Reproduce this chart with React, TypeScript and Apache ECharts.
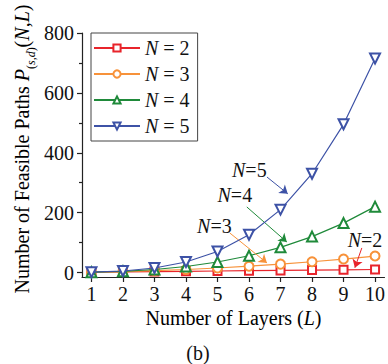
import React, { useEffect, useRef } from "react";
import * as echarts from "echarts";

// Number of layers L
const layers = [1, 2, 3, 4, 5, 6, 7, 8, 9, 10];

// Number of feasible paths for each N
const pathsN2 = [1, 2, 3, 4, 5, 6, 7, 8, 9, 10];
const pathsN3 = [1, 3, 6, 10, 15, 21, 28, 36, 45, 55];
const pathsN4 = [1, 4, 10, 20, 35, 56, 84, 120, 165, 220];
const pathsN5 = [1, 5, 15, 35, 70, 126, 210, 330, 495, 715];

const seriesNames = ["N = 2", "N = 3", "N = 4", "N = 5"];
const majorYTicks = [0, 200, 400, 600, 800];
const minorYTicks = [100, 300, 500, 700];

// Arrow callouts: label position, arrow start, arrow end (data coordinates)
const calloutLabels = ["N=2", "N=3", "N=4", "N=5"];
const calloutText: number[][] = [[9.68, 107], [4.9, 156], [5.55, 259], [6.01, 343]];
const calloutFrom: number[][] = [[9.58, 82], [5.39, 132], [5.93, 219], [6.57, 319]];
const calloutTo: number[][] = [[9.36, 16], [6.57, 32], [7.2, 102], [7.23, 263]];

const FONT = "'Liberation Serif', 'DejaVu Serif', serif";
const colors = ["#e8242b", "#f7923a", "#1f8a3a", "#3d52a6"];
const symbols = ["emptyRect", "emptyCircle", "emptyTriangle", "emptyTriangle"];
const symbolSizes = [8, 9, 10, 10];
const symbolRotates = [0, 0, 0, 180];

export default function App() {
  const ref = useRef<HTMLDivElement>(null);

  useEffect(() => {
    if (!ref.current) return;
    const chart = echarts.init(ref.current, null, { renderer: "svg" });
    const allData = [pathsN2, pathsN3, pathsN4, pathsN5];

    const series = allData.map((vals, i) => ({
      name: seriesNames[i],
      type: "line",
      data: layers.map((l, k) => [l, vals[k]]),
      symbol: symbols[i],
      symbolSize: symbolSizes[i],
      symbolRotate: symbolRotates[i],
      z: 2 + i,
      color: colors[i],
      lineStyle: { color: colors[i], width: 1.2 },
      itemStyle: { color: colors[i], borderColor: colors[i], borderWidth: 1.3 },
      markLine: {
        silent: true,
        symbol: ["none", "arrow"],
        symbolSize: 8,
        lineStyle: { color: colors[i], width: 1, type: "solid" },
        label: { show: false },
        data: [[{ coord: calloutFrom[i] }, { coord: calloutTo[i] }]],
      },
      markPoint: {
        silent: true,
        symbol: "circle",
        symbolSize: 0,
        data: [{ coord: calloutText[i] }],
        label: {
          show: true,
          position: "inside",
          formatter: "{i|N}{n|=" + calloutLabels[i].split("=")[1] + "}",
          rich: {
            i: { fontFamily: FONT, fontSize: 20, fontStyle: "italic", color: "#111" },
            n: { fontFamily: FONT, fontSize: 20, color: "#111" },
          },
        },
      },
    }));

    chart.setOption({
      animation: false,
      grid: { left: 82, right: 3.5, top: 33, bottom: 87, outerBoundsMode: "none" },
      legend: {
        data: seriesNames,
        orient: "vertical",
        left: 91,
        top: 33,
        width: 104,
        padding: [5, 8, 5, 2],
        itemWidth: 46,
        itemHeight: 9,
        itemGap: 6,
        borderColor: "#444",
        borderWidth: 1,
        formatter: (name: string) => "{i|N}{n| = " + name.split("= ")[1] + "}",
        textStyle: {
          fontFamily: FONT,
          fontSize: 20,
          color: "#111",
          rich: {
            i: { fontFamily: FONT, fontSize: 20, fontStyle: "italic", color: "#111" },
            n: { fontFamily: FONT, fontSize: 20, color: "#111" },
          },
        },
      },
      xAxis: {
        type: "value",
        min: 0.7,
        max: 10.3,
        splitLine: { show: false },
        axisLine: { onZero: false, lineStyle: { color: "#222", width: 1.2 } },
        axisTick: { customValues: layers, length: 5, lineStyle: { color: "#222", width: 1.2 } },
        axisLabel: {
          customValues: layers,
          margin: 7,
          fontFamily: FONT,
          fontSize: 20,
          color: "#111",
        },
      },
      yAxis: [
        {
          type: "value",
          min: -15,
          max: 800,
          splitLine: { show: false },
          axisLine: { show: true, lineStyle: { color: "#222", width: 1.2 } },
          axisTick: { customValues: majorYTicks, length: 5, lineStyle: { color: "#222", width: 1.2 } },
          axisLabel: {
            customValues: majorYTicks,
            margin: 8,
            fontFamily: FONT,
            fontSize: 20,
            color: "#111",
          },
        },
        {
          type: "value",
          position: "left",
          min: -15,
          max: 800,
          splitLine: { show: false },
          axisLine: { show: false },
          axisTick: { customValues: minorYTicks, length: 3, lineStyle: { color: "#222", width: 1.2 } },
          axisLabel: { show: false },
        },
      ],
      graphic: [
        {
          type: "text",
          x: 22,
          y: 149,
          rotation: Math.PI / 2,
          style: {
            text:
              "{n|Number of Feasible Paths }{it|P}{sub|(}{subi|s}{sub|,}{subi|d}{sub|)}{n|(}{it|N}{n|,}{it|L}{n|)}",
            align: "center",
            verticalAlign: "middle",
            rich: {
              n: { fontFamily: FONT, fontSize: 20, color: "#111", lineHeight: 24, verticalAlign: "middle" },
              it: { fontFamily: FONT, fontSize: 20, fontStyle: "italic", color: "#111", lineHeight: 24, verticalAlign: "middle" },
              sub: { fontFamily: FONT, fontSize: 12, color: "#111", lineHeight: 12, verticalAlign: "bottom", padding: [0, 0, -3, 0] },
              subi: { fontFamily: FONT, fontSize: 12, fontStyle: "italic", color: "#111", lineHeight: 12, verticalAlign: "bottom", padding: [0, 0, -3, 0] },
            },
          },
        },
        {
          type: "text",
          x: 233.5,
          y: 318,
          style: {
            text: "{n|Number of Layers (}{it|L}{n|)}",
            align: "center",
            verticalAlign: "middle",
            rich: {
              n: { fontFamily: FONT, fontSize: 20, color: "#111" },
              it: { fontFamily: FONT, fontSize: 20, fontStyle: "italic", color: "#111" },
            },
          },
        },
        {
          type: "text",
          x: 198,
          y: 353,
          style: {
            text: "(b)",
            align: "center",
            verticalAlign: "middle",
            fontFamily: FONT,
            fontSize: 20,
            fill: "#111",
          },
        },
      ],
      series,
    });

    return () => chart.dispose();
  }, []);

  return (
    <div
      ref={ref}
      style={{ position: "fixed", left: 0, top: 0, width: 388, height: 364, background: "#fff" }}
    />
  );
}
